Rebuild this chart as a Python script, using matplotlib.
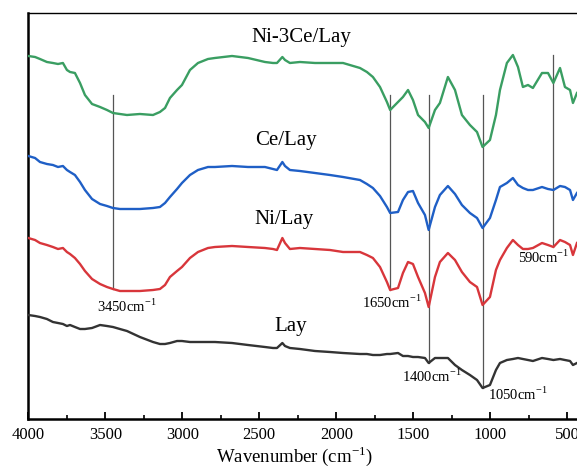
import numpy as np
import matplotlib
matplotlib.use("Agg")
import matplotlib.pyplot as plt
from matplotlib.ticker import MultipleLocator

plt.rcParams['font.family'] = ['Liberation Serif', 'DejaVu Serif']
plt.rcParams['mathtext.fontset'] = 'custom'
plt.rcParams['mathtext.rm'] = 'Liberation Serif'

# wavenumber grid (cm-1) shared by all spectra
wavenumber = [4000, 3956, 3924, 3879, 3840, 3807, 3775, 3749, 3729, 3697,
              3664, 3632, 3586, 3534, 3489, 3450, 3405, 3359, 3275, 3190,
              3145, 3112, 3080, 3034, 3002, 2950, 2898, 2833, 2788, 2677,
              2573, 2463, 2411, 2385, 2350, 2333, 2301, 2236, 2138, 2041,
              1956,
              1846, 1801, 1762, 1716, 1671, 1650, 1599, 1567, 1534, 1502,
              1469, 1424, 1400, 1359, 1327, 1275, 1229, 1184, 1132, 1086,
              1050, 1002, 963, 937, 892, 853, 820, 788, 755, 723,
              664, 625, 590, 547, 515, 482, 463, 437]

# transmittance (a.u., stacked)
ni3ce_lay = [363, 362, 360, 357, 356, 355, 356, 349, 347, 346,
             336, 324, 315, 312, 309, 306, 305, 304, 305, 304,
             307, 311, 321, 329, 334, 349, 356, 360, 361, 363,
             361, 357, 356, 356, 362, 359, 356, 357, 356, 356,
             356,
             351, 347, 342, 332, 317, 309, 317, 322, 329, 319,
             304, 297, 291, 309, 316, 342, 329, 304, 294, 287,
             272, 279, 304, 329, 356, 364, 352, 332, 334, 331,
             346, 346, 336, 351, 332, 329, 316, 326]
ce_lay = [263, 261, 257, 255, 254, 252, 253, 249, 247, 244,
          237, 229, 220, 215, 213, 211, 210, 210, 210, 211,
          212, 216, 222, 230, 236, 244, 249, 252, 252, 253,
          252, 252, 250, 249, 257, 253, 249, 248, 246, 244,
          242,
          239, 235, 231, 223, 212, 206, 207, 219, 227, 228,
          216, 204, 189, 212, 224, 233, 225, 214, 206, 201,
          191, 201, 219, 232, 236, 241, 234, 231, 229, 229,
          232, 230, 229, 233, 232, 229, 219, 226]
ni_lay = [181, 179, 176, 174, 172, 170, 171, 167, 165, 161,
          155, 148, 140, 135, 132, 130, 128, 128, 128, 129,
          130, 134, 142, 148, 152, 161, 167, 171, 172, 173,
          172, 171, 170, 169, 181, 176, 170, 171, 170, 169,
          167,
          167, 164, 161, 152, 137, 129, 131, 146, 157, 155,
          142, 126, 112, 142, 157, 166, 159, 147, 137, 132,
          114, 122, 149, 159, 171, 179, 174, 170, 170, 171,
          176, 174, 172, 179, 177, 174, 164, 176]
lay = [104, 103, 102, 100, 97, 96, 95, 93, 94, 92,
       90, 90, 91, 94, 93, 92, 90, 88, 82, 77,
       75, 75, 76, 78, 78, 77, 77, 77, 77, 76,
       74, 72, 71, 71, 76, 73, 71, 70, 68, 67,
       66,
       65, 65, 64, 64, 65, 65, 66, 63, 63, 62,
       62, 61, 56, 61, 61, 61, 54, 49, 44, 39,
       31, 34, 49, 56, 59, 60, 61, 60, 59, 58,
       61, 60, 59, 60, 59, 58, 54, 56]

series = [
    ("Ni-3Ce/Lay", ni3ce_lay, "#3a9e62", 2229, 381),
    ("Ce/Lay", ce_lay, "#1f5fc6", 2327, 278),
    ("Ni/Lay", ni_lay, "#d8363b", 2340, 199),
    ("Lay", lay, "#333333", 2294, 93),
]

# marked bands: position, curve the line ends on, top of line, label anchor
bands = [3450, 1650, 1400, 1050, 590]
band_end = [ni_lay, ni_lay, lay, lay, ni_lay]
band_top = [324, 324, 324, 324, 364]
band_label_x = [3553, 1833, 1574, 1015, 820]
band_label_y = [107, 111, 37, 19, 156]

fig = plt.figure(figsize=(5.77, 4.69), dpi=100)
ax = fig.add_axes([0.049, 0.1066, 0.9608, 0.8657])

wn = np.array(wavenumber)
for name, vals, col, lx, ly in series:
    ax.plot(wn, vals, color=col, lw=1.7, zorder=3, solid_joinstyle='round')
    ax.text(lx, ly, name, ha='center', va='center', fontsize=15)

for b, curve, top, tx, ty in zip(bands, band_end, band_top, band_label_x, band_label_y):
    bottom = np.interp(b, wn[::-1], np.array(curve)[::-1])
    ax.plot([b, b], [bottom, top], color='#555555', lw=0.9, zorder=2)
    ax.text(tx, ty, f"{b}cm$^{{-1}}$", ha='left', va='baseline', fontsize=10.5)

ax.set_xlim(4000, 400)
ax.set_ylim(0, 406)
ax.xaxis.set_major_locator(MultipleLocator(500))
ax.xaxis.set_minor_locator(MultipleLocator(250))
ax.tick_params(axis='x', which='major', direction='in', length=5, width=1.3,
               labelsize=12, pad=6)
ax.tick_params(axis='x', which='minor', direction='in', length=3, width=1.2)
ax.set_yticks([])
ax.spines['left'].set_linewidth(1.8)
ax.spines['bottom'].set_linewidth(1.8)
ax.spines['top'].set_linewidth(1.0)
ax.set_xlabel("Wavenumber (cm$^{-1}$)", fontsize=13.5)
ax.xaxis.set_label_coords(0.481, -0.062)

fig.savefig("out.png", dpi=100)
